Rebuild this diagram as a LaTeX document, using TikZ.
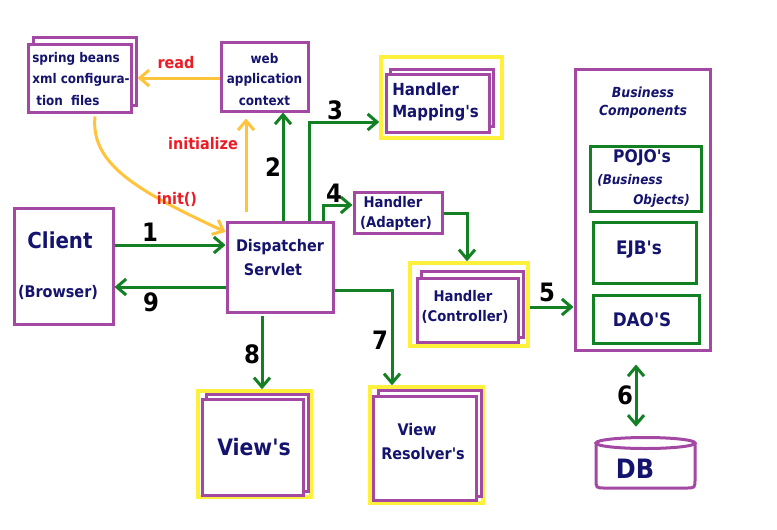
\documentclass[tikz,border=0pt]{standalone}
\usepackage{fontspec}
\setmainfont{DejaVu Sans Condensed}[Ligatures=TeXOff]
\usetikzlibrary{arrows.meta,calc}
\definecolor{pur}{RGB}{163,73,164}
\definecolor{yel}{RGB}{255,240,60}
\definecolor{gld}{RGB}{255,195,60}
\definecolor{grn}{RGB}{20,128,36}
\definecolor{nvy}{RGB}{20,20,110}
\definecolor{rd}{RGB}{237,28,36}
\newcommand\fsz[1]{\fontsize{#1pt}{1.2\dimexpr#1pt\relax}\selectfont}
\newcommand\ap{'}
\begin{document}
\begin{tikzpicture}[x=0.75pt,y=-0.75pt,
  pbox/.style 2 args={draw=pur,line width=2.25pt,fill=white,inner sep=0pt,
     minimum width=#1*0.75pt,minimum height=#2*0.75pt},
  gbox/.style 2 args={draw=grn,line width=2.25pt,fill=white,inner sep=0pt,
     minimum width=#1*0.75pt,minimum height=#2*0.75pt},
  ybox/.style 2 args={draw=yel,line width=2.6pt,fill=white,inner sep=0pt,
     minimum width=#1*0.75pt,minimum height=#2*0.75pt},
  tx/.style={text=nvy,font=\bfseries,inner sep=0pt},
  rt/.style={text=rd,font=\bfseries\fsz{12},inner sep=0pt},
  num/.style={text=black,font=\bfseries\fsz{19},inner sep=0pt},
  barb/.tip={Straight Barb[length=7pt,width=12pt]},
  garr/.style={draw=grn,line width=2.25pt,-barb},
  yarr/.style={draw=gld,line width=2.25pt,-barb}]
\useasboundingbox (0,0) rectangle (777,529);
\fill[white] (0,0) rectangle (777,529);

% helper coordinates
\coordinate (h1) at (0,245);
\coordinate (h9) at (0,287);
\coordinate (v2) at (283,0);
\coordinate (v3) at (309,0);
\coordinate (h3) at (0,122);
\coordinate (v4) at (323,0);
\coordinate (h4) at (0,205);
\coordinate (ha) at (0,213);
\coordinate (va) at (467,0);
\coordinate (h5) at (0,307);
\coordinate (h7) at (0,290);
\coordinate (v7) at (392,0);
\coordinate (v8) at (262,0);
\coordinate (v6) at (636,0);
\coordinate (hr) at (0,78);
\coordinate (vi) at (246,0);
\coordinate (vc) at (95,0);
\coordinate (hc) at (0,232);

% spring beans
\node[pbox={103}{68}] (sprb) at (84.5,71) {};
\node[pbox={103}{68}] (sprf) at (79.5,78) {};
% web application context
\node[pbox={87}{69}] (web) at (264.5,76.5) {};
% handler mapping
\node[ybox={121}{81}] (hmy) at (441.5,97.5) {};
\node[pbox={103}{57}] (hmb) at (441.5,97.5) {};
\node[pbox={103}{58}] (hmf) at (437.5,103) {};
% handler adapter
\node[pbox={88}{41}] (adp) at (398,212.5) {};
% controller
\node[ybox={118}{83}] (cty) at (469,304.5) {};
\node[pbox={102}{66}] (ctb) at (472,304) {};
\node[pbox={101}{64}] (ctf) at (467.5,310) {};
% business components
\node[pbox={135}{281}] (biz) at (642.5,209.5) {};
\node[gbox={111}{65}] (pojo) at (645.5,178.5) {};
\node[gbox={103}{61}] (ejb) at (644.5,252.5) {};
\node[gbox={106}{48}] (dao) at (646,319) {};
% DB
\draw[pur,line width=2.25pt,fill=white] (596,443) -- (596,479) .. controls (596,488) .. (605,488)
   -- (686,488) .. controls (695,488) .. (695,479) -- (695,443);
\draw[pur,line width=2.25pt] (645.5,443) ellipse [x radius=49.5, y radius=5.5];
\node[inner sep=0pt,minimum width=74.25pt,minimum height=37.5pt] (db) at (645.5,463) {};
% client, dispatcher
\node[pbox={99}{116}] (cli) at (63.5,266) {};
\node[pbox={106}{90}] (dsp) at (280,267) {};
% views
\node[ybox={113}{106}] (vwy) at (254.5,444) {};
\node[pbox={102}{97}] (vwb) at (257,442.5) {};
\node[pbox={101}{96}] (vwf) at (252.5,447) {};
% view resolvers
\node[ybox={113}{116}] (vry) at (426.5,445) {};
\node[pbox={103}{106}] (vrb) at (429.5,443) {};
\node[pbox={103}{104}] (vrf) at (424.5,448) {};

% green connectors
\draw[garr] (cli.east |- h1) -- (dsp.west |- h1);
\draw[garr] (dsp.west |- h9) -- (cli.east |- h9);
\draw[garr] (dsp.north -| v2) -- (web.south -| v2);
\draw[garr] (dsp.north -| v3) |- (hmy.west |- h3);
\draw[garr] (dsp.north -| v4) |- (adp.west |- h4);
\draw[garr] (adp.east |- ha) -| (cty.north -| va);
\draw[garr] (cty.east |- h5) -- (biz.west |- h5);
\draw[garr] (dsp.east |- h7) -| (vry.north -| v7);
\draw[garr,shorten <=1.5pt] (dsp.south -| v8) -- (vwy.north -| v8);
\draw[garr,barb-barb,shorten <=9.75pt,shorten >=8.25pt] (biz.south -| v6) -- (db.north -| v6);

% gold connectors
\draw[yarr] (web.west |- hr) -- (sprb.east |- hr);
\draw[yarr,shorten <=6.75pt,shorten >=4.5pt] (dsp.north -| vi) -- (web.south -| vi);
\draw[yarr] ($(sprf.south -| vc)+(0,3)$) .. controls (90,165) and (140,192) .. (dsp.west |- hc);

% texts
\node[tx,anchor=west,font=\bfseries\fsz{10}] (t1) at (32,59) {spring beans};
\node[tx,anchor=west,font=\bfseries\fsz{10}] (t2) at (32,80) {xml configura-};
\node[tx,anchor=west,font=\bfseries\fsz{10}] (t3) at (36,101) {tion\ \ files};
\node[tx,font=\bfseries\fsz{10}] (t4) at (264.5,59) {web};
\node[tx,font=\bfseries\fsz{10}] (t5) at (264.5,80) {application};
\node[tx,font=\bfseries\fsz{10}] (t6) at (264.5,101) {context};
\node[rt] (rd1) at (176,63) {read};
\node[rt] (rd2) at (203,144) {initialize};
\node[rt] (rd3) at (177,199) {init()};
\node[tx,anchor=west,font=\bfseries\fsz{12.5}] (t7) at (392,89) {Handler};
\node[tx,anchor=west,font=\bfseries\fsz{12.5}] (t8) at (392,113) {Mapping\ap s};
\node[tx,font=\bfseries\fsz{11}] (t9) at (393,202) {Handler};
\node[tx,font=\bfseries\fsz{11}] (t10) at (396,223) {(Adapter)};
\node[tx,font=\bfseries\fsz{11}] (t11) at (463,296) {Handler};
\node[tx,font=\bfseries\fsz{11}] (t12) at (465,317) {(Controller)};
\node[tx,font=\bfseries\itshape\fsz{10.4}] (t13) at (643,92) {Business};
\node[tx,font=\bfseries\itshape\fsz{10.4}] (t14) at (643,112) {Components};
\node[tx,font=\bfseries\fsz{13}] (t15) at (642,158) {POJO\ap s};
\node[tx,anchor=west,font=\bfseries\itshape\fsz{10}] (t16) at (597,180) {(Business};
\node[tx,anchor=west,font=\bfseries\itshape\fsz{10}] (t17) at (633,201) {Objects)};
\node[tx,font=\bfseries\fsz{14}] (t18) at (639,250) {EJB\ap s};
\node[tx,font=\bfseries\fsz{14}] (t19) at (642,320) {DAO\ap S};
\node[tx,font=\bfseries\fsz{20}] (t20) at (635,469) {DB};
\node[tx,font=\bfseries\fsz{16.5}] (t21) at (60,240) {Client};
\node[tx,font=\bfseries\fsz{12}] (t22) at (58,292) {(Browser)};
\node[tx,font=\bfseries\fsz{12}] (t23) at (280,247) {Dispatcher};
\node[tx,font=\bfseries\fsz{12}] (t24) at (273,270) {Servlet};
\node[tx,font=\bfseries\fsz{17}] (t25) at (254,447) {View\ap s};
\node[tx,font=\bfseries\fsz{12}] (t26) at (417,430) {View};
\node[tx,font=\bfseries\fsz{12}] (t27) at (423,454) {Resolver\ap s};
% numbers
\node[num] (n1) at (150,232) {1};
\node[num] (n2) at (273,167) {2};
\node[num] (n3) at (335,110) {3};
\node[num] (n4) at (334,193) {4};
\node[num] (n5) at (547,292) {5};
\node[num] (n6) at (625,395) {6};
\node[num] (n7) at (380,340) {7};
\node[num] (n8) at (252,354) {8};
\node[num] (n9) at (151,302) {9};
\end{tikzpicture}
\end{document}
